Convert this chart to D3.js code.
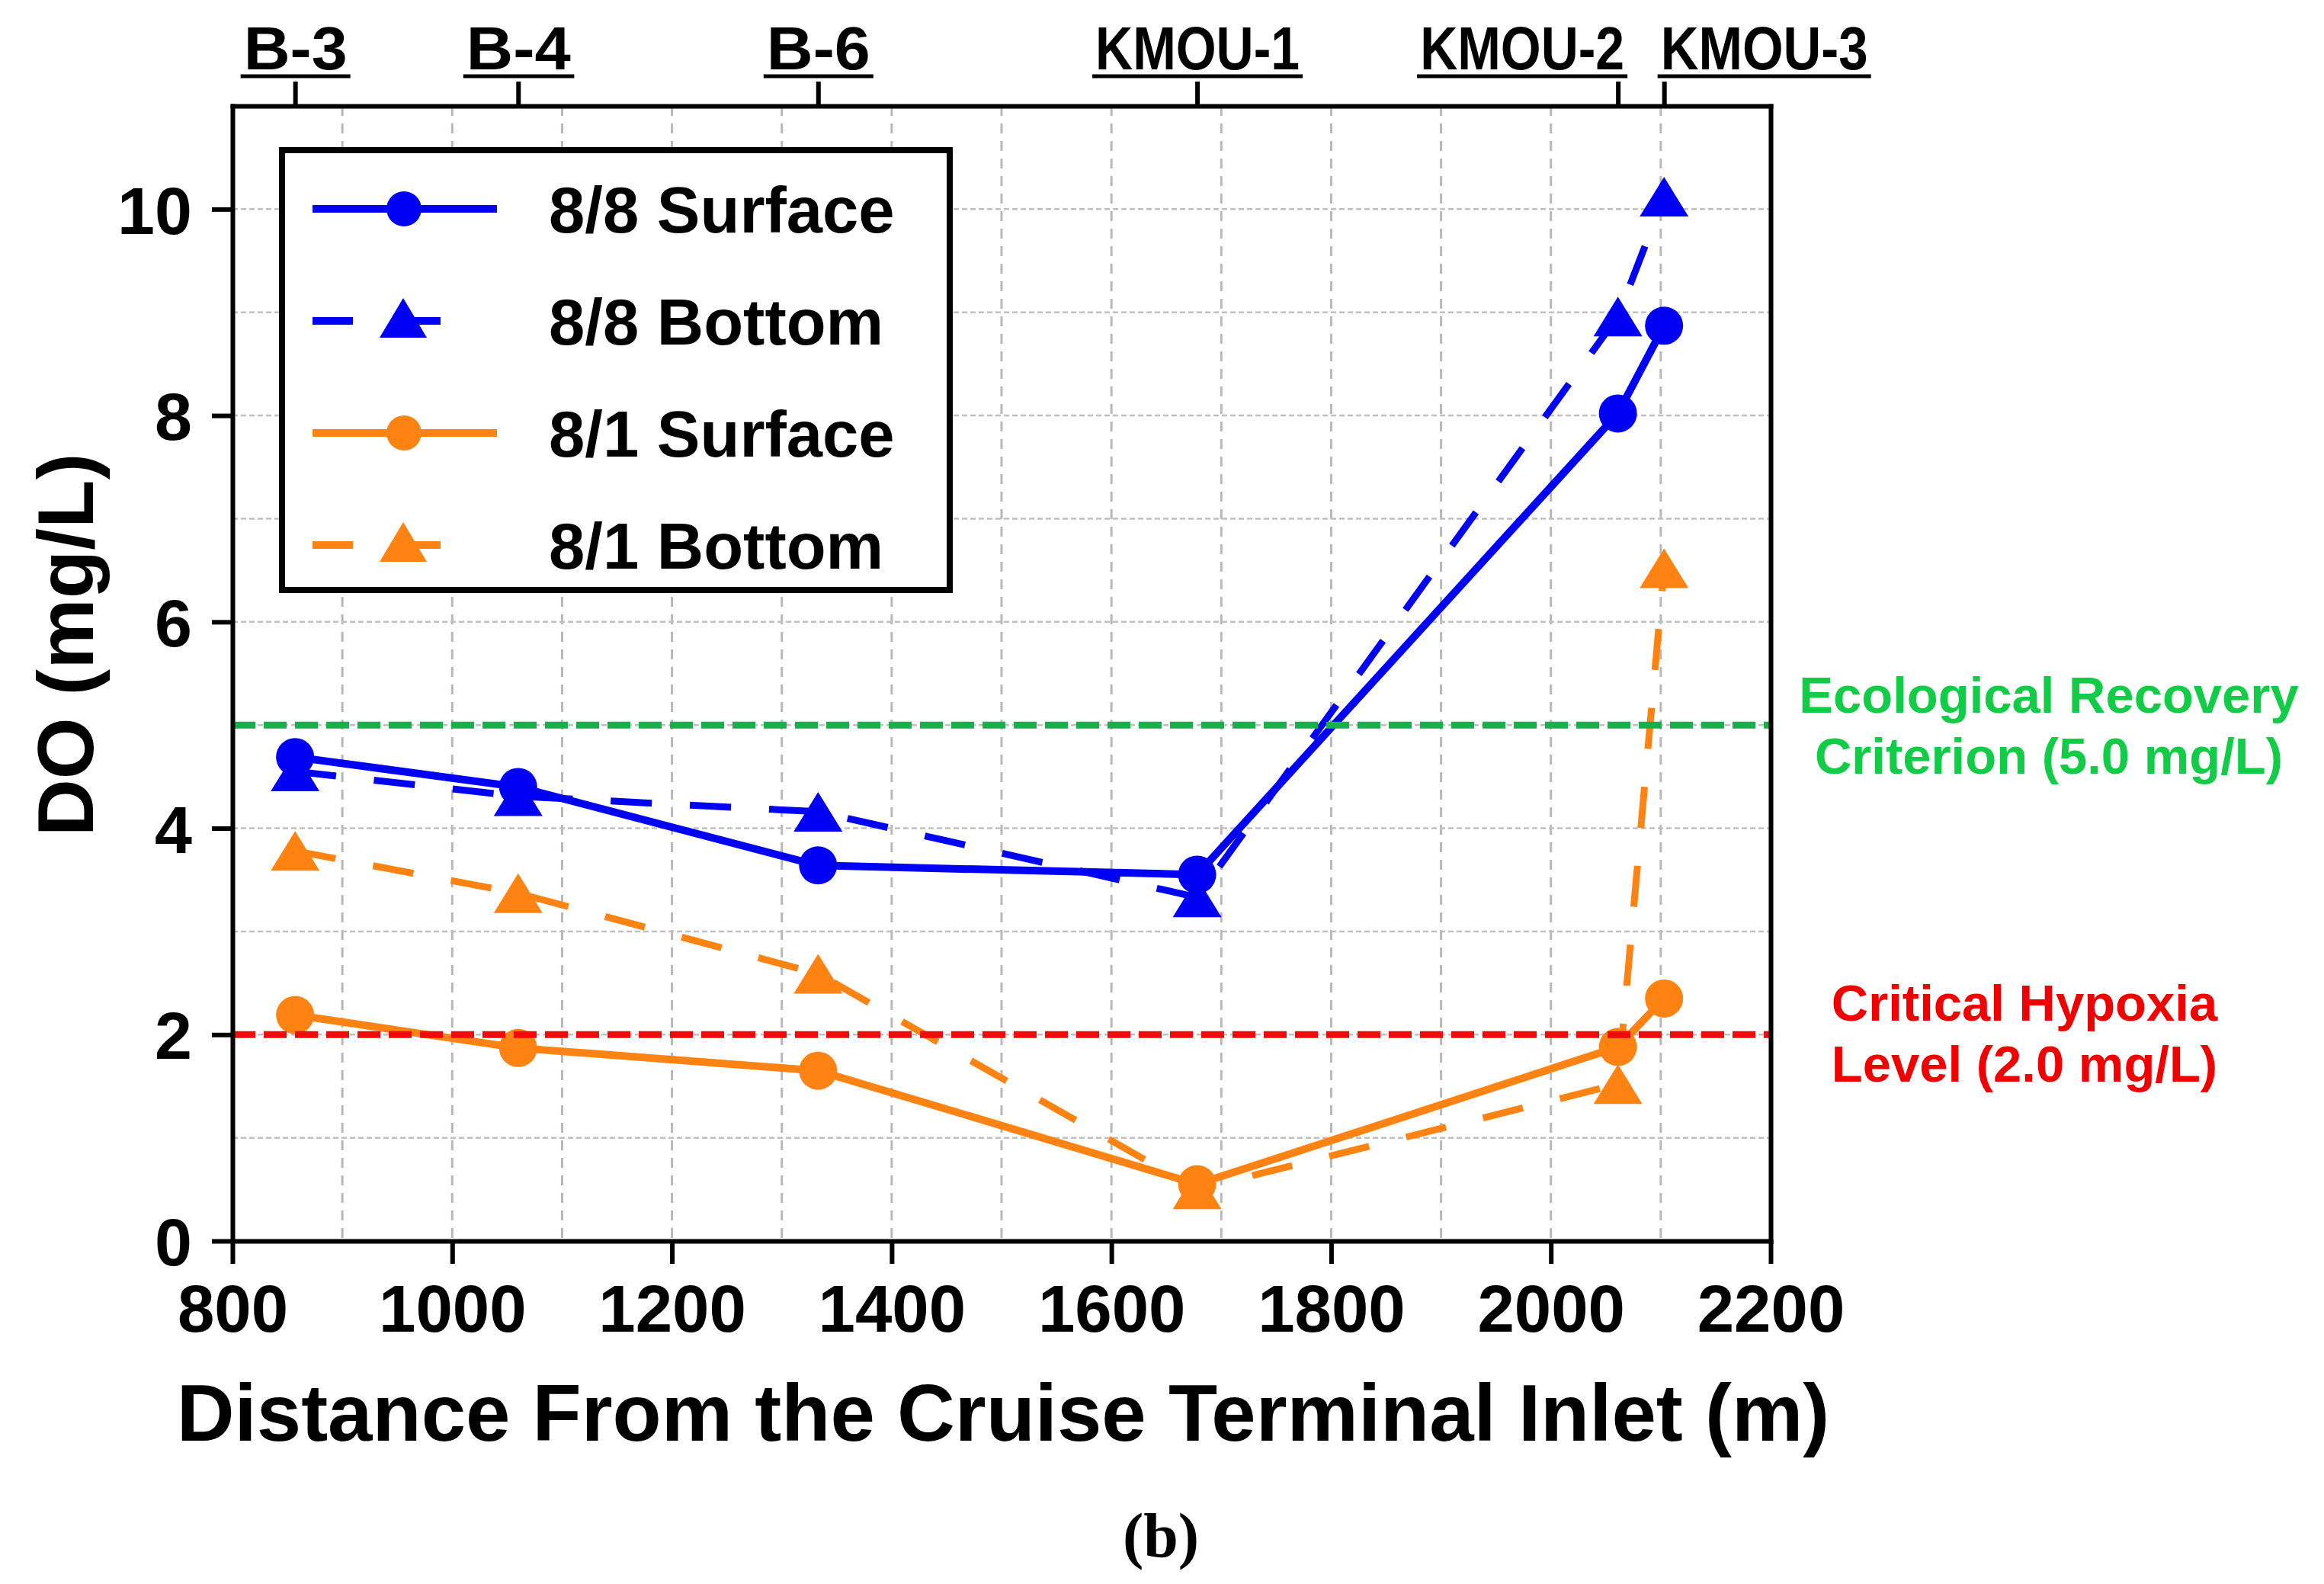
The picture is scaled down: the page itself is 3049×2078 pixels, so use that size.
<!DOCTYPE html>
<html>
<head>
<meta charset="utf-8">
<script src="https://cdn.jsdelivr.net/npm/d3@7"></script>
<style>
  body { margin: 0; background: #fff; }
  svg text { font-family: Arial, "Liberation Sans", sans-serif; font-weight: bold; }
</style>
</head>
<body>
<svg id="chart" width="3049" height="2078"></svg>
<script>
// stations along the channel, distance from the cruise terminal inlet (m)
const stations = ["B-3", "B-4", "B-6", "KMOU-1", "KMOU-2", "KMOU-3"]
const distances = [857, 1060, 1333, 1678, 2061, 2103]

// DO (mg/L)
const surfaceAug8 = [4.69, 4.40, 3.64, 3.55, 8.02, 8.87]
const bottomAug8 = [4.55, 4.31, 4.16, 3.33, 8.96, 10.12]
const surfaceAug1 = [2.19, 1.87, 1.65, 0.55, 1.88, 2.35]
const bottomAug1 = [3.78, 3.37, 2.59, 0.50, 1.52, 6.52]

const seriesNames = ["8/8 Surface", "8/8 Bottom", "8/1 Surface", "8/1 Bottom"]

const xTicks = [800, 1000, 1200, 1400, 1600, 1800, 2000, 2200]
const yTicks = [0, 2, 4, 6, 8, 10]

const criteria = [
  { value: 5.0, lines: ["Ecological Recovery", "Criterion (5.0 mg/L)"] },
  { value: 2.0, lines: ["Critical Hypoxia", "Level (2.0 mg/L)"] }
]

const BLUE = "#0000f5"
const ORANGE = "#ff8312"

const series = [
  { name: seriesNames[0], values: surfaceAug8, color: BLUE, dashed: false, symbol: "circle" },
  { name: seriesNames[1], values: bottomAug8, color: BLUE, dashed: true, symbol: "triangle" },
  { name: seriesNames[2], values: surfaceAug1, color: ORANGE, dashed: false, symbol: "circle" },
  { name: seriesNames[3], values: bottomAug1, color: ORANGE, dashed: true, symbol: "triangle" }
]

const criteriaStyle = [
  { line: "#17b04c", text: "#12cc48", x: 2688, baseline: 935 },
  { line: "#f00a0a", text: "#f00000", x: 2656, baseline: 1339 }
]

const margin = { left: 305, right: 2323, top: 139, bottom: 1628 }

const svg = d3.select("#chart")

const x = d3.scaleLinear().domain([800, 2200]).range([margin.left, margin.right])
const y = d3.scaleLinear().domain([0, 11]).range([margin.bottom, margin.top])

// ------------------------------------------
// grid
// ------------------------------------------

let grid = svg.append("g")

grid.selectAll(".vgrid")
  .data(d3.range(900, 2200, 100))
  .join("line")
  .attr("x1", d => x(d)).attr("x2", d => x(d))
  .attr("y1", margin.top).attr("y2", margin.bottom)
  .attr("stroke", "#b8b8b8")
  .attr("stroke-width", 3)
  .attr("stroke-dasharray", "13,10")

grid.selectAll(".hgrid")
  .data(d3.range(1, 11))
  .join("line")
  .attr("x1", margin.left).attr("x2", margin.right)
  .attr("y1", d => y(d)).attr("y2", d => y(d))
  .attr("stroke", "#c0c0c0")
  .attr("stroke-width", 2.5)
  .attr("stroke-dasharray", "7,4")

// ------------------------------------------
// series
// ------------------------------------------

const line = d3.line()
  .x((d, i) => x(distances[i]))
  .y(d => y(d))

function trianglePath(w, h) {
  return `M0,${-h / 2}L${w / 2},${h / 2}L${-w / 2},${h / 2}Z`
}

let plot = svg.append("g")

series.forEach(s => {
  plot.append("path")
    .datum(s.values)
    .attr("d", line)
    .attr("fill", "none")
    .attr("stroke", s.color)
    .attr("stroke-width", s.dashed ? 9 : 10)
    .attr("stroke-dasharray", s.dashed ? "54,50" : null)
})

series.forEach(s => {
  let marks = plot.append("g").attr("fill", s.color)
  if (s.symbol === "circle") {
    marks.selectAll("circle")
      .data(s.values)
      .join("circle")
      .attr("cx", (d, i) => x(distances[i]))
      .attr("cy", d => y(d))
      .attr("r", 25)
  } else {
    marks.selectAll("path")
      .data(s.values)
      .join("path")
      .attr("d", trianglePath(64, 52))
      .attr("transform", (d, i) => `translate(${x(distances[i])},${y(d)})`)
  }
})

// ------------------------------------------
// criterion lines + notes
// ------------------------------------------

criteria.forEach((c, i) => {
  let st = criteriaStyle[i]
  svg.append("line")
    .attr("x1", margin.left).attr("x2", margin.right)
    .attr("y1", y(c.value)).attr("y2", y(c.value))
    .attr("stroke", st.line)
    .attr("stroke-width", 9)
    .attr("stroke-dasharray", "30,11")

  svg.append("g").selectAll("text")
    .data(c.lines)
    .join("text")
    .attr("x", st.x)
    .attr("y", (d, j) => st.baseline + j * 80)
    .attr("text-anchor", "middle")
    .attr("font-size", 67)
    .attr("fill", st.text)
    .text(d => d)
})

// ------------------------------------------
// axes
// ------------------------------------------

function styleAxis(g, fontSize) {
  g.attr("font-size", fontSize)
    .attr("font-family", 'Arial, "Liberation Sans", sans-serif')
    .attr("color", "#000")
  g.select(".domain").attr("stroke-width", 6).attr("stroke-linecap", "square")
  g.selectAll(".tick line").attr("stroke-width", 6)
}

let xAxisGroup = svg.append("g")
  .attr("transform", `translate(0,${margin.bottom})`)
  .call(d3.axisBottom(x).tickValues(xTicks).tickFormat(d3.format("d"))
    .tickSize(30).tickSizeOuter(0).tickPadding(27))
styleAxis(xAxisGroup, 87)

let yAxisGroup = svg.append("g")
  .attr("transform", `translate(${margin.left},0)`)
  .call(d3.axisLeft(y).tickValues(yTicks).tickSize(27).tickSizeOuter(0).tickPadding(26))
styleAxis(yAxisGroup, 88)
yAxisGroup.selectAll(".tick text").attr("dy", "0.36em")

svg.append("g")
  .attr("transform", `translate(${margin.right},0)`)
  .call(d3.axisRight(y).tickValues([]).tickSizeOuter(0))
  .call(g => styleAxis(g, 10))

// station axis on top
const stationWidths = [136, 137, 136, 268, 268, 272]
let topAxisGroup = svg.append("g")
  .attr("transform", `translate(0,${margin.top})`)
  .call(d3.axisTop(x).tickValues(distances).tickSize(32).tickSizeOuter(0).tickPadding(16)
    .tickFormat((d, i) => stations[i]))
styleAxis(topAxisGroup, 80)

topAxisGroup.selectAll(".tick text")
  .attr("textLength", (d, i) => stationWidths[i])
  .attr("lengthAdjust", "spacingAndGlyphs")
  .attr("text-anchor", (d, i) => i === 4 ? "end" : i === 5 ? "start" : "middle")
  .attr("x", (d, i) => i === 4 ? 8 : i === 5 ? -5 : 0)

topAxisGroup.selectAll(".tick").each(function () {
  let box = d3.select(this).select("text").node().getBBox()
  d3.select(this).append("line")
    .attr("x1", box.x - 4)
    .attr("x2", box.x + box.width + 4)
    .attr("y1", -39).attr("y2", -39)
    .attr("stroke", "#000")
    .attr("stroke-width", 5)
})

// axis titles
svg.append("text")
  .attr("x", 1316)
  .attr("y", 1890)
  .attr("text-anchor", "middle")
  .attr("font-size", 105)
  .text("Distance From the Cruise Terminal Inlet (m)")

svg.append("text")
  .attr("transform", "translate(122,846) rotate(-90)")
  .attr("text-anchor", "middle")
  .attr("font-size", 104)
  .text("DO (mg/L)")

// ------------------------------------------
// legend
// ------------------------------------------

let legend = svg.append("g")

legend.append("rect")
  .attr("x", 370).attr("y", 197)
  .attr("width", 876).attr("height", 577)
  .attr("fill", "#fff")
  .attr("stroke", "#000")
  .attr("stroke-width", 8)

const legendY = d3.scalePoint().domain(seriesNames).range([274, 715])

series.forEach(s => {
  let ly = legendY(s.name)
  legend.append("line")
    .attr("x1", 410).attr("x2", s.dashed ? 580 : 652)
    .attr("y1", ly).attr("y2", ly)
    .attr("stroke", s.color)
    .attr("stroke-width", 10)
    .attr("stroke-dasharray", s.dashed ? "53,62" : null)

  if (s.symbol === "circle") {
    legend.append("circle")
      .attr("cx", 530).attr("cy", ly).attr("r", 23)
      .attr("fill", s.color)
  } else {
    legend.append("path")
      .attr("d", trianglePath(62, 52))
      .attr("transform", `translate(529,${ly - 4})`)
      .attr("fill", s.color)
  }

  legend.append("text")
    .attr("x", 720)
    .attr("y", ly + 31)
    .attr("font-size", 85)
    .text(s.name)
})

// panel tag
svg.append("text")
  .attr("x", 1523)
  .attr("y", 2042)
  .attr("text-anchor", "middle")
  .attr("font-size", 82)
  .style("font-family", '"Liberation Serif", "DejaVu Serif", serif')
  .text("(b)")
</script>
</body>
</html>
